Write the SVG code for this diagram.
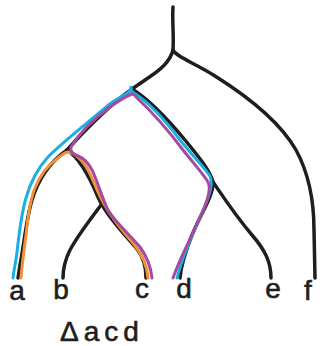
<svg xmlns="http://www.w3.org/2000/svg" width="320" height="346" viewBox="0 0 320 346">
<style>
.k{fill:none;stroke:#1e1e1e;stroke-width:3.5;stroke-linecap:round;stroke-linejoin:round}
.c{fill:none;stroke-width:3;stroke-linecap:round;stroke-linejoin:round}
.lbl{font-family:"Liberation Sans","DejaVu Sans",sans-serif;font-size:28px;fill:#1e1e1e;stroke:#1e1e1e;stroke-width:0.6;text-anchor:middle}
</style>
<rect width="320" height="346" fill="#fff"/>
<g id="connectors">
<path class="k" d="M173,7 C172,20 174,35 173,50"/>
<path class="k" d="M173,50 C176,57 195,63 215,76 C250,98 280,122 296,150 C308,172 314,200 314,230 L315,278"/>
<path class="k" d="M173,50 C170,62 160,70 148,78 L132,89"/>
<path class="k" d="M132,89 C110,105 85,130 67,150"/>
<path class="k" d="M67,150 C50,162 38,180 32,200 C26,220 24,245 20,265 L18,278"/>
<path class="k" d="M67,150 C80,158 90,178 98,197 C106,215 125,235 137,249 C144,258 146,268 146,278"/>
<path class="k" d="M101,205 C90,220 78,235 70,250 C65,260 63,270 63,278"/>
<path class="k" d="M132,89 C150,100 170,122 185,140 C198,156 210,170 213,182 C214,195 200,215 192,235 C186,250 181,265 180,278"/>
<path class="k" d="M213,182 C222,195 235,215 252,235 C265,250 271,262 271,278"/>
<path class="c" stroke="#1aaee3" d="M13,278 C14,268 16,262 17,252 C19,235 21,215 26,198 C31,180 38,168 48,157 C63,142 85,125 105,108 C113,100 120,98 126,94 C129,92 131,90 131,87 C131,90 131,92 134,93 C150,103 165,120 180,140 C192,155 205,168 210,176 C214,185 208,200 198,222 C190,240 182,258 177,278"/>
<path class="c" stroke="#f0913a" d="M21,278 C22,265 24,250 26,235 C28,215 30,200 35,188 C40,175 48,165 58,158 C62,155 65,152 68,152 C74,153 80,158 85,165 C92,175 96,190 102,200 C108,212 120,228 133,243 C142,254 147,265 148,278"/>
<path class="c" stroke="#a54a9e" d="M152,278 C151,268 148,258 140,247 C128,233 115,222 108,210 C102,198 97,180 92,170 C88,162 83,158 78,156 C73,154 70,152 71,147 C80,132 95,118 110,107 C118,101 125,97 132,94 C134,94 135,95 137,98 C150,110 168,130 183,150 C195,165 204,175 208,182 C212,190 206,205 198,222 C190,240 180,258 173,278"/>
</g>
<g id="a"><text class="lbl" x="17" y="300">a</text></g>
<g id="b"><text class="lbl" x="61" y="299">b</text></g>
<g id="c"><text class="lbl" x="142" y="298">c</text></g>
<g id="d"><text class="lbl" x="184" y="298">d</text></g>
<g id="e"><text class="lbl" x="273" y="298">e</text></g>
<g id="f"><text class="lbl" x="308" y="300">f</text></g>
<g id="caption"><text class="lbl" x="60" y="341" letter-spacing="5" style="text-anchor:start">Δacd</text></g>
</svg>
